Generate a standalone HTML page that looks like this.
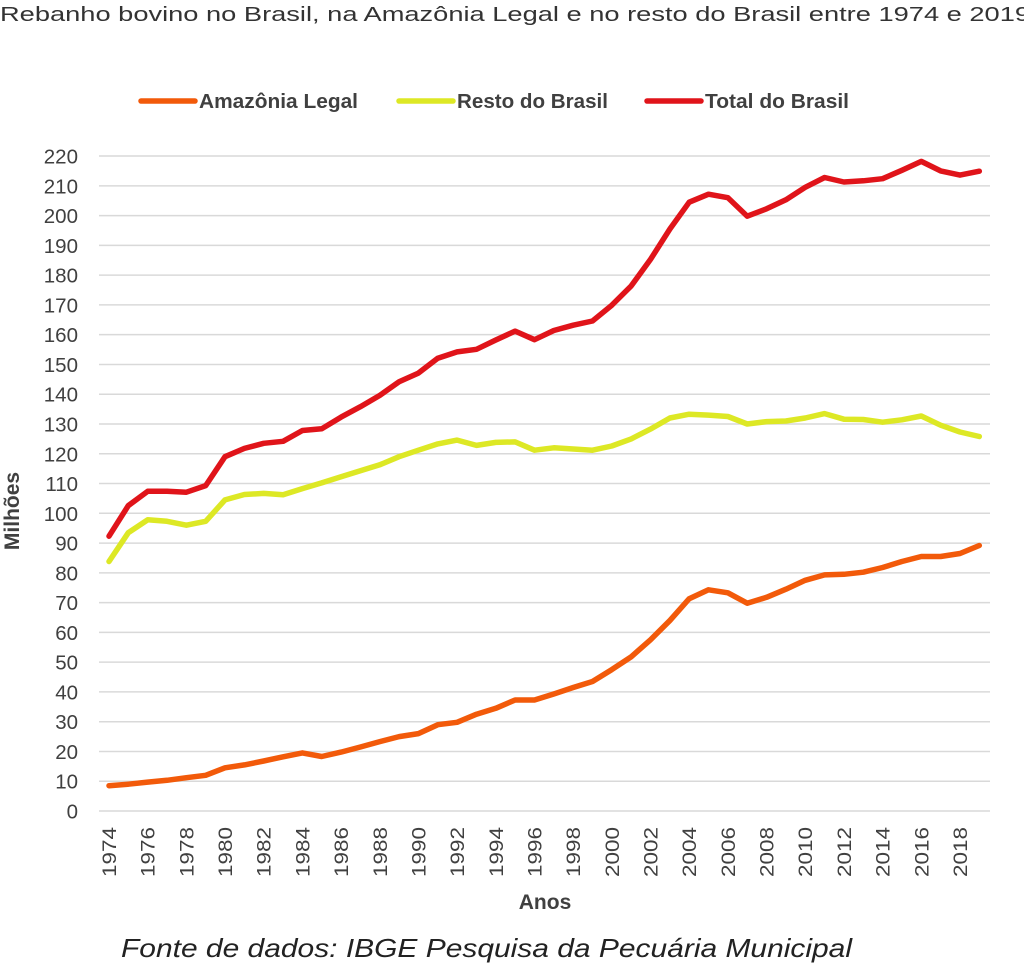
<!DOCTYPE html><html><head><style>body{margin:0;background:#fff}svg{display:block}</style></head><body>
<svg id="s" width="1024" height="966" xmlns="http://www.w3.org/2000/svg" font-family="Liberation Sans, sans-serif"></svg>
<script>
const A=[8.5,9,9.7,10.3,11.2,12,14.5,15.5,16.8,18.2,19.5,18.3,19.8,21.5,23.3,25,26,29,29.8,32.5,34.5,37.3,37.3,39.3,41.5,43.5,47.5,51.8,57.5,64,71.3,74.3,73.3,69.8,71.8,74.5,77.5,79.3,79.5,80.2,81.8,83.8,85.5,85.5,86.5,89.2];
const R=[83.8,93.5,97.8,97.3,96,97.3,104.5,106.3,106.7,106.2,108.3,110.2,112.3,114.3,116.3,119,121.2,123.3,124.6,122.8,123.8,124,121.2,122,121.6,121.2,122.6,125,128.3,132,133.3,133,132.5,130,130.8,131,132,133.5,131.6,131.5,130.6,131.4,132.7,129.6,127.3,125.8];
const T=[92.3,102.6,107.4,107.4,107.1,109.3,119,121.8,123.5,124.2,127.8,128.4,132.3,135.8,139.6,144.2,147.1,152.1,154.2,155.1,158.2,161.2,158.3,161.4,163.2,164.6,169.9,176.4,185.3,195.5,204.5,207.2,206,199.8,202.3,205.3,209.5,212.8,211.3,211.7,212.4,215.2,218.2,215,213.6,214.9];
const X=i=>109+i*19.34, Y=v=>811-v*2.977;
let h='<text x="0" y="21" font-size="20" fill="#333" textLength="1030" lengthAdjust="spacingAndGlyphs">Rebanho bovino no Brasil, na Amazônia Legal e no resto do Brasil entre 1974 e 2019</text>';
for(let v=0;v<=220;v+=10){const y=Y(v);h+=`<line x1="99" x2="990" y1="${y}" y2="${y}" stroke="#d9d9d9" stroke-width="1.5"/><text x="78" y="${y+7.5}" font-size="20.5" fill="#404040" text-anchor="end">${v}</text>`;}
for(let i=0;i<46;i+=2){const x=X(i);h+=`<text transform="translate(${x+7},877) rotate(-90)" font-size="19" fill="#404040" textLength="50" lengthAdjust="spacingAndGlyphs">${1974+i}</text>`;}
const pl=(d,c)=>`<polyline fill="none" stroke="${c}" stroke-width="5.5" stroke-linejoin="round" stroke-linecap="round" points="${d.map((v,i)=>X(i).toFixed(1)+','+Y(v).toFixed(1)).join(' ')}"/>`;
h+=pl(A,'#f25a0a')+pl(R,'#dde825')+pl(T,'#e0141a');
const lg=(x,c,t,w)=>`<line x1="${x}" x2="${x+54}" y1="101" y2="101" stroke="${c}" stroke-width="5.5" stroke-linecap="round"/><text x="${x+58}" y="108" font-size="20" font-weight="bold" fill="#404040" textLength="${w}" lengthAdjust="spacingAndGlyphs">${t}</text>`;
h+=lg(141,'#f25a0a','Amazônia Legal',159)+lg(399,'#dde825','Resto do Brasil',151)+lg(647,'#e0141a','Total do Brasil',144);
h+='<text transform="translate(19,511) rotate(-90)" font-size="21" font-weight="bold" fill="#404040" text-anchor="middle">Milhões</text>';
h+='<text x="545" y="909" font-size="21" font-weight="bold" fill="#404040" text-anchor="middle">Anos</text>';
h+='<text x="121" y="957" font-size="26" font-style="italic" fill="#222" textLength="731" lengthAdjust="spacingAndGlyphs">Fonte de dados: IBGE Pesquisa da Pecuária Municipal</text>';
document.getElementById('s').innerHTML=h;
</script></body></html>
